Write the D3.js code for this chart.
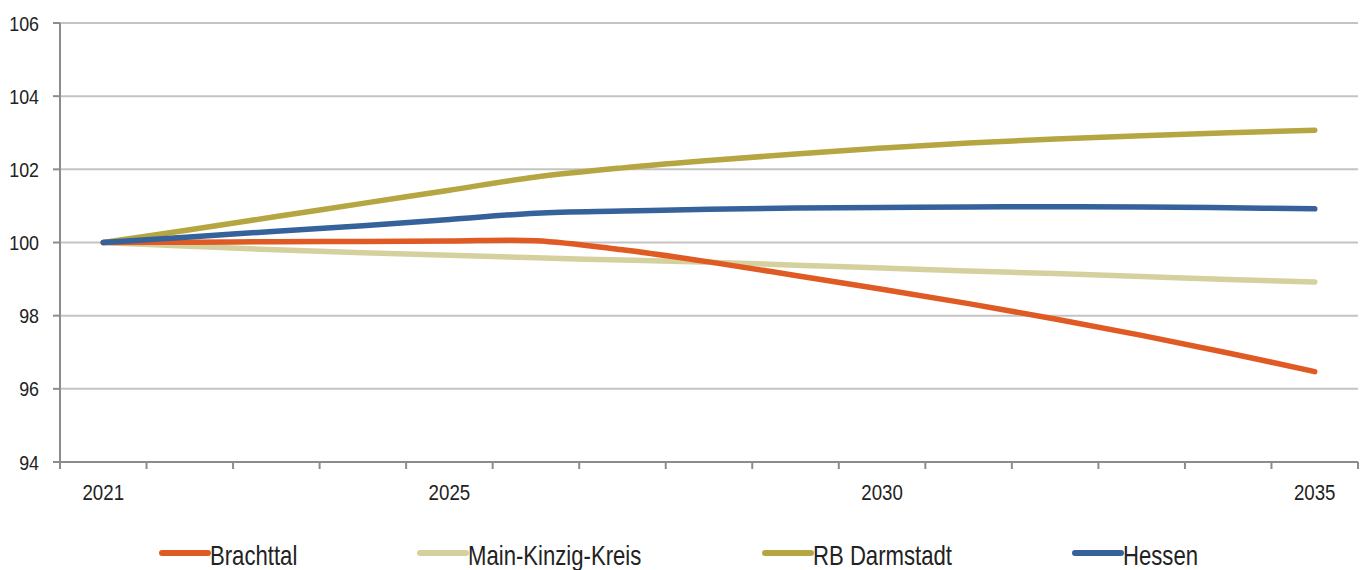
<!DOCTYPE html>
<html>
<head>
<meta charset="utf-8">
<script src="https://cdn.jsdelivr.net/npm/d3@7"></script>
<style>
  html, body { margin: 0; padding: 0; background: #fff; }
  svg { display: block; }
  text { font-family: "Liberation Sans", Arial, sans-serif; fill: #222; }
</style>
</head>
<body>
<svg id="chart" width="1370" height="570"></svg>
<script>
// Population index, 2021 = 100
const years = [2021, 2022, 2023, 2024, 2025, 2026, 2027, 2028, 2029, 2030, 2031, 2032, 2033, 2034, 2035];
const labeledYears = [2021, 2025, 2030, 2035];
const yTicks = [94, 96, 98, 100, 102, 104, 106];

const seriesNames = ["Brachttal", "Main-Kinzig-Kreis", "RB Darmstadt", "Hessen"];
const brachttal = [100, 100.01, 100.02, 100.03, 100.04, 100.05, 99.8, 99.47, 99.1, 98.72, 98.33, 97.91, 97.46, 96.98, 96.47];
const mainKinzig = [100, 99.9, 99.8, 99.72, 99.65, 99.58, 99.52, 99.46, 99.38, 99.3, 99.22, 99.15, 99.07, 98.99, 98.92];
const rbDarmstadt = [100, 100.35, 100.71, 101.07, 101.43, 101.79, 102.04, 102.24, 102.42, 102.58, 102.72, 102.83, 102.92, 103.0, 103.07];
const hessen = [100, 100.15, 100.31, 100.46, 100.63, 100.8, 100.86, 100.91, 100.94, 100.96, 100.97, 100.98, 100.97, 100.95, 100.92];
const seriesColors = ["#E05A24", "#D5D19E", "#B5A642", "#35629A"];

const svg = d3.select("#chart");
const plotLeft = 60, plotRight = 1358, plotTop = 23, plotBottom = 462;
const sx = 0.85; // narrow lettering

const x = d3.scaleBand().domain(years).range([plotLeft, plotRight]);
const cx = d => x(d) + x.bandwidth() / 2;
const y = d3.scaleLinear().domain([94, 106]).range([plotBottom, plotTop]);

// horizontal gridlines
svg.append("g").selectAll("line").data(yTicks.filter(v => v !== 94)).join("line")
  .attr("x1", plotLeft).attr("x2", plotRight)
  .attr("y1", d => y(d)).attr("y2", d => y(d))
  .attr("stroke", "#c4c4c4").attr("stroke-width", 2);

// y axis
svg.append("line").attr("x1", plotLeft).attr("x2", plotLeft).attr("y1", plotTop).attr("y2", plotBottom)
  .attr("stroke", "#8c8c8c").attr("stroke-width", 2);
svg.append("g").selectAll("line").data(yTicks).join("line")
  .attr("x1", plotLeft - 7).attr("x2", plotLeft)
  .attr("y1", d => y(d)).attr("y2", d => y(d))
  .attr("stroke", "#8c8c8c").attr("stroke-width", 2);
svg.append("g").selectAll("text").data(yTicks).join("text")
  .attr("transform", d => `translate(39,${y(d) + 7.5}) scale(${sx},1)`)
  .attr("text-anchor", "end")
  .style("font-size", "21px")
  .text(d => d);

// x axis
svg.append("line").attr("x1", plotLeft - 7).attr("x2", plotRight).attr("y1", plotBottom).attr("y2", plotBottom)
  .attr("stroke", "#8c8c8c").attr("stroke-width", 2);
const boundaries = years.map(d => x(d)).concat([plotRight]);
svg.append("g").selectAll("line").data(boundaries).join("line")
  .attr("x1", d => d).attr("x2", d => d)
  .attr("y1", plotBottom).attr("y2", plotBottom + 7)
  .attr("stroke", "#8c8c8c").attr("stroke-width", 2);
svg.append("g").selectAll("text").data(labeledYears).join("text")
  .attr("transform", d => `translate(${cx(d)},500) scale(${sx},1)`)
  .attr("text-anchor", "middle")
  .style("font-size", "22px")
  .text(d => d);

// series lines
const allSeries = [brachttal, mainKinzig, rbDarmstadt, hessen];
const line = d3.line().x((d, i) => cx(years[i])).y(d => y(d)).curve(d3.curveCatmullRom.alpha(0.5));
const drawOrder = [1, 2, 0, 3];
svg.append("g").selectAll("path").data(drawOrder).join("path")
  .attr("d", i => line(allSeries[i]))
  .attr("fill", "none")
  .attr("stroke", i => seriesColors[i])
  .attr("stroke-width", 5.5)
  .attr("stroke-linecap", "round")
  .attr("stroke-linejoin", "round");

// legend
const legendX = [162, 420, 765, 1075];
const lg = svg.append("g").selectAll("g").data(seriesNames).join("g")
  .attr("transform", (d, i) => `translate(${legendX[i]},553)`);
lg.append("line").attr("x1", 0).attr("x2", 46).attr("y1", 0).attr("y2", 0)
  .attr("stroke", (d, i) => seriesColors[i]).attr("stroke-width", 6).attr("stroke-linecap", "round");
lg.append("text")
  .attr("transform", `translate(48,12) scale(0.82,1)`)
  .style("font-size", "27px")
  .text(d => d);
</script>
</body>
</html>
